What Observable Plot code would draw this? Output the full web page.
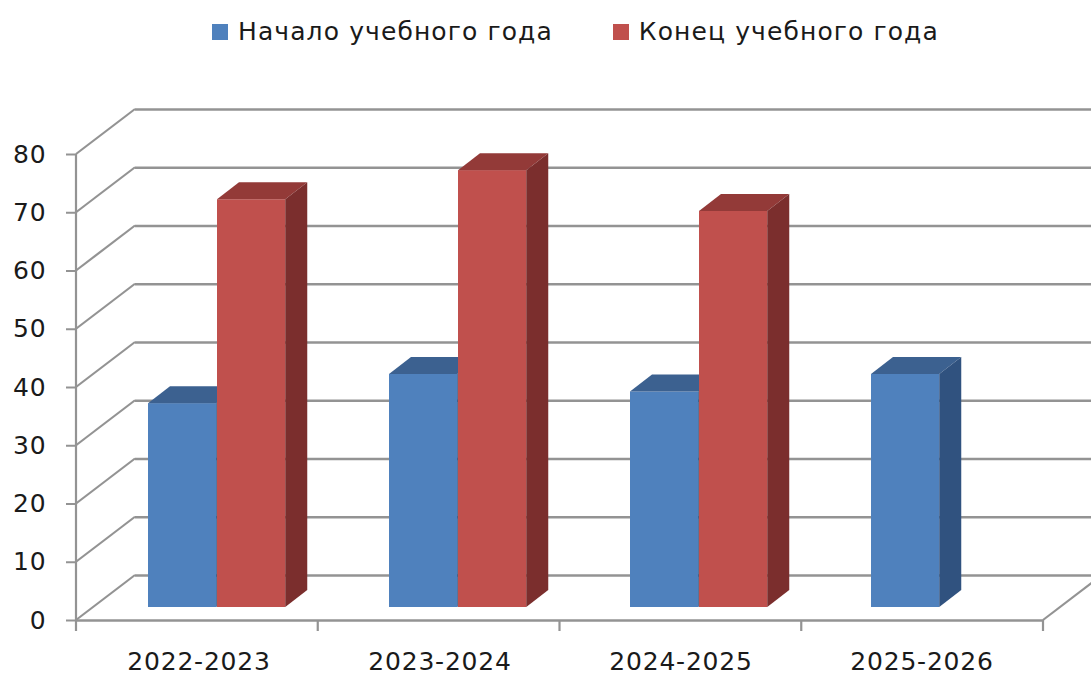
<!DOCTYPE html>
<html><head><meta charset="utf-8">
<script src="https://cdn.jsdelivr.net/npm/d3@7"></script>
<script src="https://cdn.jsdelivr.net/npm/@observablehq/plot@0.6"></script>
<style>
html,body{margin:0;padding:0;background:#fff;overflow:hidden;}
body{font-family:"DejaVu Sans",sans-serif;}
#legend{height:70px;box-sizing:border-box;padding-left:212px;padding-top:20px;display:flex;align-items:flex-start;font-size:25px;line-height:24px;color:#1a1a1a;letter-spacing:1.1px;}
#legend .item{display:flex;align-items:flex-start;}
#legend .sw{width:16px;height:16px;margin-top:4px;margin-right:10px;}
#legend .item + .item{margin-left:60px;}
#chart svg text{letter-spacing:0.8px;}
</style></head><body>
<div id="legend"></div>
<div id="chart"></div>
<script>
// ---- data ----
const years = ["2022-2023", "2023-2024", "2024-2025", "2025-2026"];
const seriesNames = ["Начало учебного года", "Конец учебного года"];
const startValues = [35, 40, 37, 40];
const endValues = [70, 75, 68, null];
const yTicks = [0, 10, 20, 30, 40, 50, 60, 70, 80];

// ---- style ----
const BLUE = {front: "#4F81BD", top: "#3C6190", side: "#30527F"};
const RED = {front: "#C0504D", top: "#933A38", side: "#7B2E2D"};
const GRID = "#939393";
const WALL = [59, -45];   // back wall offset
const PLANE = [17, -13];  // bar plane offset
const DEPTH = [22, -17];  // bar depth
const BAR_W = 69, GAP_L = 53;

// legend
const legend = document.getElementById("legend");
[[seriesNames[0], BLUE.front], [seriesNames[1], RED.front]].forEach(([name, c]) => {
  const it = document.createElement("div"); it.className = "item";
  const sw = document.createElement("div"); sw.className = "sw"; sw.style.background = c;
  const tx = document.createElement("span"); tx.textContent = name;
  it.appendChild(sw); it.appendChild(tx); legend.appendChild(it);
});

const startData = years.map((y, i) => ({year: y, value: startValues[i]}));
const endData = years.map((y, i) => ({year: y, value: endValues[i]})).filter(d => d.value != null);

function faces(col) {
  return (index, scales, values, dims, context, next) => {
    const g = next(index, scales, values, dims, context);
    const rects = Array.from(g.querySelectorAll("rect"));
    for (const r of rects) {
      const x = +r.getAttribute("x"), y = +r.getAttribute("y");
      const w = +r.getAttribute("width"), h = +r.getAttribute("height");
      const p = d3.select(r.parentNode);
      const [ddx, ddy] = DEPTH;
      p.append("polygon").attr("fill", col.top)
        .attr("points", [[x, y], [x + w, y], [x + w + ddx, y + ddy], [x + ddx, y + ddy]].map(q => q.join(",")).join(" "));
      p.append("polygon").attr("fill", col.side)
        .attr("points", [[x + w, y], [x + w + ddx, y + ddy], [x + w + ddx, y + h + ddy], [x + w, y + h]].map(q => q.join(",")).join(" "));
    }
    return g;
  };
}

function walls(index, scales, values, dims) {
  const g = d3.create("svg:g").attr("stroke", GRID).attr("stroke-width", 2.2).attr("fill", "none");
  const x0 = dims.marginLeft, x1 = dims.width - dims.marginRight;
  const y0 = scales.y(0), yTop = scales.y(yTicks[yTicks.length - 1]);
  for (const i of index) {
    const y = scales.y(yTicks[i]);
    g.append("line").attr("x1", x0).attr("y1", y).attr("x2", x0 + WALL[0]).attr("y2", y + WALL[1]);
  }
  // right floor edge
  g.append("line").attr("x1", x1).attr("y1", y0).attr("x2", x1 + WALL[0]).attr("y2", y0 + WALL[1]);
  // front vertical axis
  g.append("line").attr("x1", x0).attr("y1", y0).attr("x2", x0).attr("y2", yTop);
  // category boundary ticks
  const n = years.length;
  for (let k = 0; k <= n; k++) {
    const x = x0 + k * (x1 - x0) / n;
    g.append("line").attr("x1", x).attr("y1", y0).attr("x2", x).attr("y2", y0 + 11);
  }
  return g.node();
}

const chart = Plot.plot({
  width: 1091,
  height: 605,
  marginLeft: 76,
  marginRight: 48,
  marginTop: 84,
  marginBottom: 55,
  style: {fontFamily: "DejaVu Sans, sans-serif", fontSize: "25px", overflow: "hidden", background: "#fff"},
  x: {type: "band", domain: years, padding: 0, axis: null},
  y: {domain: [0, 80], axis: null},
  marks: [
    Plot.ruleY(yTicks, {dx: WALL[0], dy: WALL[1], stroke: GRID, strokeWidth: 2.4}),
    Plot.ruleY(yTicks, {render: walls}),
    Plot.ruleY([0], {stroke: GRID, strokeWidth: 2.4}),
    Plot.axisY(yTicks, {tickSize: 10, tickPadding: 20, stroke: GRID, strokeWidth: 2, fill: "#1a1a1a", fontSize: 25, label: null}),
    Plot.axisX({tickSize: 0, tickPadding: 32, fill: "#1a1a1a", fontSize: 25, label: null}),
    Plot.barY(startData, {x: "year", y: "value", fill: BLUE.front, insetLeft: GAP_L, insetRight: 241.75 - GAP_L - BAR_W, dx: PLANE[0], dy: PLANE[1], render: faces(BLUE)}),
    Plot.barY(endData, {x: "year", y: "value", fill: RED.front, insetLeft: GAP_L + BAR_W, insetRight: 241.75 - GAP_L - 2 * BAR_W, dx: PLANE[0], dy: PLANE[1], render: faces(RED)})
  ]
});
document.getElementById("chart").appendChild(chart);
</script>
</body></html>
